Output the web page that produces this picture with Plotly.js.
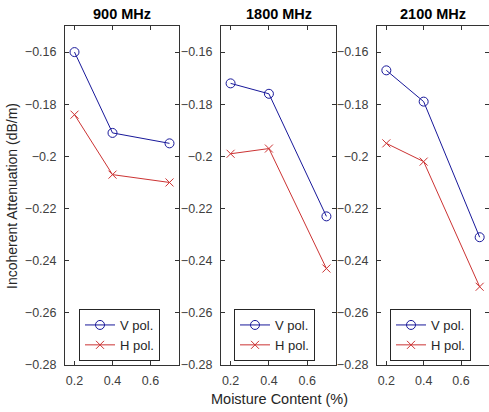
<!DOCTYPE html>
<html><head><meta charset="utf-8">
<script src="https://cdn.plot.ly/plotly-3.0.1.min.js"></script>
<style>html,body{margin:0;padding:0;background:#fff}#c{width:489px;height:412px}</style>
</head><body><div id="c"></div>
<script>
const moisture = [0.2, 0.4, 0.7];
const panelTitles = ["900 MHz", "1800 MHz", "2100 MHz"];
const vPol900 = [-0.160, -0.191, -0.195];
const hPol900 = [-0.184, -0.207, -0.210];
const vPol1800 = [-0.172, -0.176, -0.223];
const hPol1800 = [-0.199, -0.197, -0.243];
const vPol2100 = [-0.167, -0.179, -0.231];
const hPol2100 = [-0.195, -0.202, -0.250];
const yTicks = [-0.28, -0.26, -0.24, -0.22, -0.2, -0.18, -0.16];
const yTickText = ["-0.28", "-0.26", "-0.24", "-0.22", "-0.2", "-0.18", "-0.16"];
const xTicks = [0.2, 0.4, 0.6];
const xTickText = ["0.2", "0.4", "0.6"];

const W = 489, H = 412;
const font = "Liberation Sans, Arial, sans-serif";
const blue = "#18189a", red = "#cc3333";
const vSeries = [vPol900, vPol1800, vPol2100];
const hSeries = [hPol900, hPol1800, hPol2100];
const xPix = [[65, 179], [221, 336], [377, 489]];
const legPix = [79, 234, 390];
const yDom = [(H - 365) / H, (H - 26) / H];

const traces = [];
const layout = {
  width: W, height: H,
  margin: {l: 0, r: 0, t: 0, b: 0},
  paper_bgcolor: "#fff", plot_bgcolor: "#fff",
  font: {family: font, size: 12, color: "#262626"},
  showlegend: true,
  annotations: [],
};
for (let i = 0; i < 3; i++) {
  const sfx = i === 0 ? "" : String(i + 1);
  const leg = "legend" + sfx;
  traces.push({
    x: moisture, y: vSeries[i], xaxis: "x" + sfx, yaxis: "y" + sfx,
    mode: "lines+markers", name: "V pol.", legend: leg,
    line: {color: blue, width: 1},
    marker: {symbol: "circle-open", size: 9, color: blue, line: {width: 1}},
  });
  traces.push({
    x: moisture, y: hSeries[i], xaxis: "x" + sfx, yaxis: "y" + sfx,
    mode: "lines+markers", name: "H pol.", legend: leg,
    line: {color: red, width: 1},
    marker: {symbol: "x-thin-open", size: 8, color: red, line: {width: 1, color: red}},
  });
  const common = {
    showline: true, linecolor: "#333333", linewidth: 1, mirror: "ticks",
    ticks: "inside", ticklen: 4, tickcolor: "#333333", tickwidth: 1,
    showgrid: false, zeroline: false, fixedrange: true,
    tickfont: {family: font, size: 12.5, color: "#404040"},
  };
  layout["xaxis" + sfx] = Object.assign({}, common, {
    domain: [xPix[i][0] / W, xPix[i][1] / W], range: [0.15, 0.75],
    tickvals: xTicks, ticktext: xTickText, anchor: "y" + sfx,
    ticklabelstandoff: 4,
  });
  layout["yaxis" + sfx] = Object.assign({}, common, {
    domain: yDom, range: [-0.28, -0.15],
    tickvals: yTicks, ticktext: yTickText.map(t => t.replace("-", "\u2212")), anchor: "x" + sfx,
    ticklabelstandoff: 5,
  });
  layout[leg] = {
    x: legPix[i] / W, y: (H - 309) / H, xanchor: "left", yanchor: "top",
    bgcolor: "#fff", bordercolor: "#262626", borderwidth: 1,
    font: {family: font, size: 13, color: "#262626"},
    tracegroupgap: 0, itemwidth: 30,
  };
  layout.annotations.push({
    text: "<b>" + panelTitles[i] + "</b>", xref: "paper", yref: "paper",
    x: (xPix[i][0] + xPix[i][1]) / 2 / W, y: (H - 14) / H,
    xanchor: "center", yanchor: "middle", showarrow: false,
    font: {family: font, size: 14.5, color: "#000"},
  });
}
layout.annotations.push({
  text: "Moisture Content (%)", xref: "paper", yref: "paper",
  x: 279 / W, y: (H - 399) / H, xanchor: "center", yanchor: "middle",
  showarrow: false, font: {family: font, size: 14.5, color: "#262626"},
});
layout.annotations.push({
  text: "Incoherent Attenuation (dB/m)", xref: "paper", yref: "paper",
  x: 12 / W, y: (H - 196) / H, xanchor: "center", yanchor: "middle",
  textangle: -90, showarrow: false, font: {family: font, size: 14, color: "#262626"},
});
Plotly.newPlot("c", traces, layout, {displayModeBar: false, staticPlot: true});
</script></body></html>
